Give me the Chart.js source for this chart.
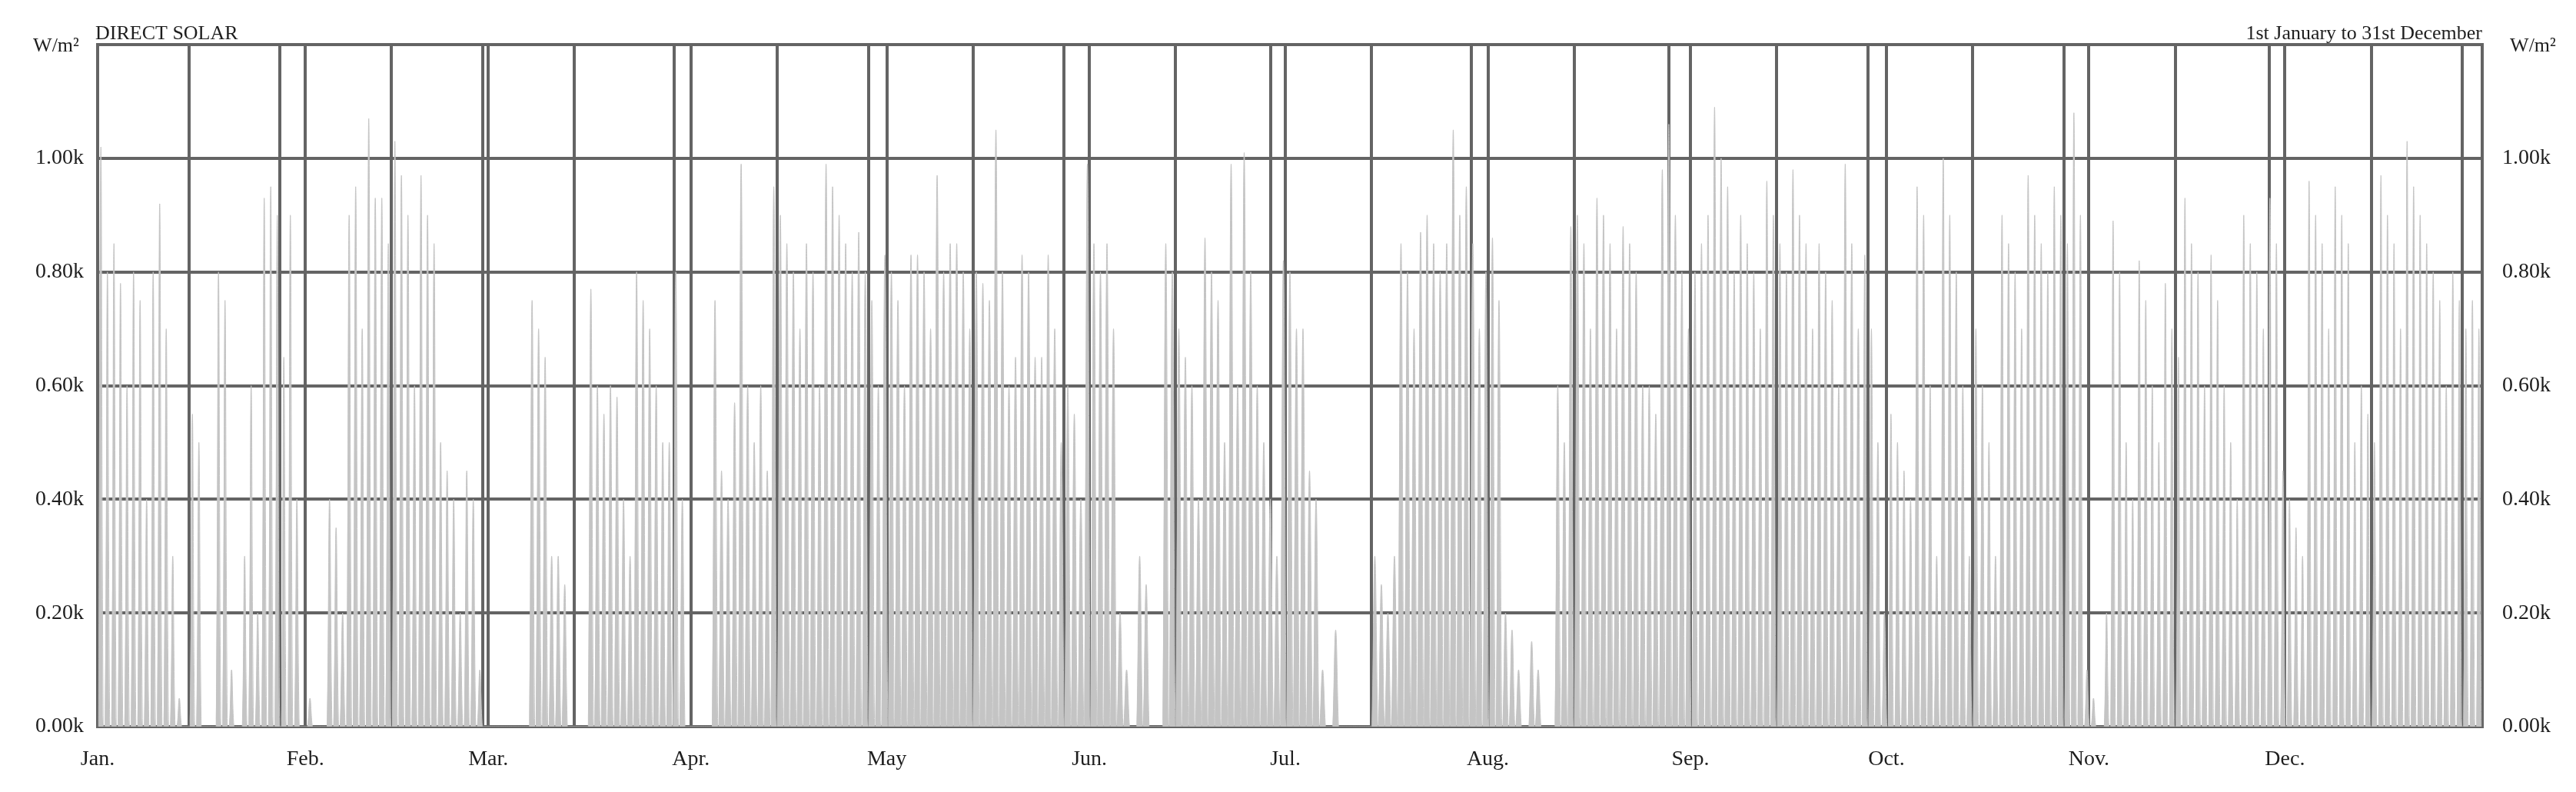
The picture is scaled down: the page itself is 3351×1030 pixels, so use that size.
<!DOCTYPE html>
<html>
<head>
<meta charset="utf-8">
<script src="https://cdn.jsdelivr.net/npm/chart.js@4.4.1/dist/chart.umd.min.js"></script>
<style>
html,body{margin:0;padding:0;background:#fff;}
#wrap{width:3351px;height:1030px;position:relative;}
</style>
</head>
<body>
<div id="wrap"><canvas id="c" width="3351" height="1030"></canvas></div>
<script>
// ---- texts ----
const chartTitle = 'DIRECT SOLAR';
const periodText = '1st January to 31st December';
const unitText = 'W/m\u00B2';

// ---- axis / tick data (day of year) ----
const monthLabels = ['Jan.','Feb.','Mar.','Apr.','May','Jun.','Jul.','Aug.','Sep.','Oct.','Nov.','Dec.'];
const monthLineDays = [0,31.8,59.8,90.8,120.8,151.8,181.8,212.8,243.8,273.8,304.8,334.8];
const midMonthDays = [14,45,73,104,134,165,195,226,257,287,318,348];
const periodLineDays = [27.9,58.9,88.3,118.0,147.9,179.6,210.3,240.5,271,301,332.4,361.9];
const yearEndDay = [365];
const yTickValues = [0,200,400,600,800,1000,1200];
// width of each daily spike base, in hours, as seen in the picture
const spikeBaseHours = [17,18,19,20,21,21,21,20,19,18,17,17];

// ---- daily peak direct solar (W/m2) ----
const jan = [1020,800,850,780,600,800,750,400,800,920,700,300,50,0,550,500,0,0,800,750,100,0,300,600,200,930,950,900,650,900,400];
const feb = [0,50,0,0,400,350,200,900,950,700,1070,930,930,850,1030,970,900,600,970,900,850,500,450,400,200,450,400,100];
const mar = [0,0,0,0,0,0,0,750,700,650,300,300,250,0,0,0,770,600,550,600,580,400,300,800,750,700,600,500,500,800,400];
const apr = [0,0,0,0,750,450,400,570,990,600,500,600,450,950,900,850,800,700,850,800,600,990,950,900,850,800,870,800,750,600];
const may = [830,800,750,600,830,830,800,700,970,800,850,850,800,700,800,780,750,1050,800,600,650,830,800,650,650,830,700,500,600,550,400];
const jun = [990,850,800,850,700,200,100,0,300,250,0,0,850,800,700,650,600,400,860,800,750,500,990,600,1010,800,600,500,400,300];
const jul = [820,800,700,700,450,400,100,0,170,0,0,0,0,0,300,250,200,300,850,800,700,870,900,850,800,850,1050,900,950,850,700];
const aug = [800,860,750,200,170,100,0,150,100,0,0,600,500,880,900,850,700,930,900,850,700,880,850,800,600,600,550,980,1060,900,800];
const sep = [700,800,850,900,1090,1000,950,800,900,850,800,700,960,900,850,800,980,900,850,700,850,800,750,600,990,850,700,830,700,500];
const oct = [200,550,500,450,400,950,900,600,300,1000,900,800,600,300,700,600,500,300,900,850,800,700,970,900,850,800,950,900,850,1080,900];
const nov = [100,50,0,200,890,800,500,400,820,750,600,500,780,700,650,930,850,800,600,830,750,600,500,400,900,850,800,700,930,850];
const dec = [450,400,350,300,960,900,850,700,950,900,850,500,600,550,500,970,900,850,700,1030,950,900,850,800,750,600,800,750,700,750,700];

const monthPeaks = [jan,feb,mar,apr,may,jun,jul,aug,sep,oct,nov,dec];

// series: zero at start of spike, peak at noon, zero at end of spike, for each day
const points = [];
let dayIndex = 0;
monthPeaks.forEach((arr, m) => {
  const half = spikeBaseHours[m] / 48;
  arr.forEach(v => {
    points.push({x: dayIndex + 0.5 - half, y: 0});
    points.push({x: dayIndex + 0.5, y: v});
    points.push({x: dayIndex + 0.5 + half, y: 0});
    dayIndex++;
  });
});

const gridDays = [...monthLineDays, ...midMonthDays, ...periodLineDays, ...yearEndDay].sort((a,b)=>a-b);

const GRID = '#646464';
const TXT = '#1e1e1e';
const FONT = 'Liberation Serif';

const textPlugin = {
  id: 'texts',
  afterDraw(chart) {
    const ctx = chart.ctx;
    const a = chart.chartArea;
    ctx.save();
    ctx.fillStyle = TXT;
    ctx.font = '26px "' + FONT + '"';
    ctx.textBaseline = 'alphabetic';
    ctx.textAlign = 'left';
    ctx.fillText(chartTitle, a.left - 3, a.top - 7);
    ctx.textAlign = 'right';
    ctx.fillText(periodText, a.right, a.top - 7);
    ctx.textBaseline = 'middle';
    ctx.textAlign = 'center';
    ctx.fillText(unitText, a.left - 54, a.top + 2);
    ctx.fillText(unitText, a.right + 66, a.top + 2);
    ctx.restore();
  }
};

new Chart(document.getElementById('c'), {
  type: 'line',
  data: {
    datasets: [{
      data: points,
      borderColor: '#c4c4c4',
      borderWidth: 1,
      backgroundColor: '#c4c4c4',
      fill: 'origin',
      pointRadius: 0,
      tension: 0.4
    }]
  },
  options: {
    responsive: false,
    animation: false,
    devicePixelRatio: 1,
    layout: { padding: { top: 58, left: 0, right: 0, bottom: 0 } },
    plugins: { legend: { display: false }, tooltip: { enabled: false }, title: { display: false } },
    scales: {
      x: {
        type: 'linear', position: 'bottom', min: 0, max: 365, z: 1,
        afterBuildTicks: s => { s.ticks = gridDays.map(v => ({ value: v })); },
        afterFit: s => { s.height = 85; },
        grid: { color: GRID, lineWidth: 4, drawTicks: false },
        border: { display: true, color: GRID, width: 4 },
        ticks: {
          autoSkip: false, maxRotation: 0, minRotation: 0, padding: 26, color: TXT,
          font: { family: FONT, size: 28 },
          callback: (v) => { const i = monthLineDays.indexOf(v); return i >= 0 ? monthLabels[i] : ''; }
        }
      },
      y: {
        position: 'left', min: 0, max: 1200, z: 1,
        afterBuildTicks: s => { s.ticks = yTickValues.map(v => ({ value: v })); },
        afterFit: s => { s.width = 127; },
        grid: { color: GRID, lineWidth: 4, drawTicks: false },
        border: { display: true, color: GRID, width: 4 },
        ticks: {
          padding: 18, color: TXT, font: { family: FONT, size: 28 },
          callback: (v) => v === 1200 ? '' : (v / 1000).toFixed(2) + 'k'
        }
      },
      y2: {
        position: 'right', min: 0, max: 1200, z: 1,
        afterBuildTicks: s => { s.ticks = yTickValues.map(v => ({ value: v })); },
        afterFit: s => { s.width = 122; },
        grid: { display: false, drawTicks: false },
        border: { display: true, color: GRID, width: 4 },
        ticks: {
          padding: 26, color: TXT, font: { family: FONT, size: 28 },
          callback: (v) => v === 1200 ? '' : (v / 1000).toFixed(2) + 'k'
        }
      }
    }
  },
  plugins: [textPlugin]
});
</script>
</body>
</html>
